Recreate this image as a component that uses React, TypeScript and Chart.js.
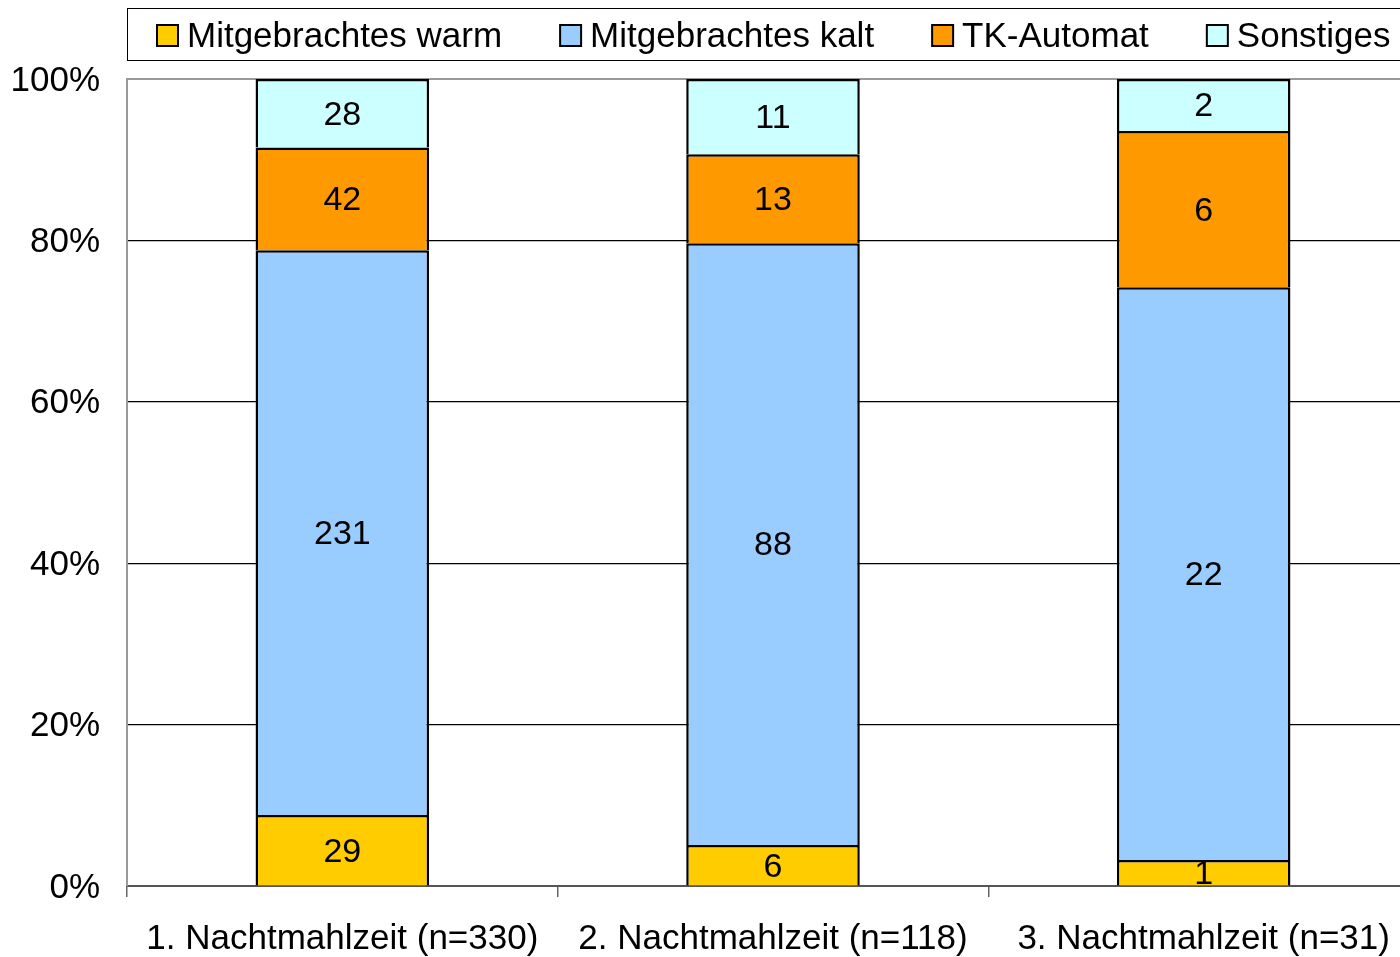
import React, { useEffect, useRef } from "react";
import { Chart, registerables } from "chart.js";

Chart.register(...registerables);

const categories = [
  "1. Nachtmahlzeit (n=330)",
  "2. Nachtmahlzeit (n=118)",
  "3. Nachtmahlzeit (n=31)",
];
const seriesNames = ["Mitgebrachtes warm", "Mitgebrachtes kalt", "TK-Automat", "Sonstiges"];
const warm = [29, 6, 1];
const kalt = [231, 88, 22];
const tkAutomat = [42, 13, 6];
const sonstiges = [28, 11, 2];
const seriesColors = ["#FFCC00", "#99CCFF", "#FF9900", "#CCFFFF"];
const yTicks = [0, 20, 40, 60, 80, 100];

const FONT = "'Liberation Sans', Arial, sans-serif";

export default function App() {
  const ref = useRef<HTMLCanvasElement | null>(null);

  useEffect(() => {
    if (!ref.current) return;
    const counts = [warm, kalt, tkAutomat, sonstiges];
    const totals = categories.map((_, i) => counts.reduce((s, arr) => s + arr[i], 0));

    const legendPlugin = {
      id: "customLegend",
      afterDraw(chart: any) {
        const ctx = chart.ctx;
        ctx.save();
        ctx.strokeStyle = "#000";
        ctx.lineWidth = 1;
        ctx.strokeRect(127.5, 8.5, chart.width, 52);
        ctx.font = `35px ${FONT}`;
        ctx.textBaseline = "middle";
        ctx.textAlign = "left";
        let x = 157;
        const cy = 35;
        seriesNames.forEach((name, i) => {
          ctx.fillStyle = seriesColors[i];
          ctx.fillRect(x, cy - 10, 21, 21);
          ctx.strokeStyle = "#000";
          ctx.lineWidth = 2;
          ctx.strokeRect(x, cy - 10, 21, 21);
          ctx.fillStyle = "#000";
          ctx.fillText(name, x + 30, cy + 2);
          x += 30 + ctx.measureText(name).width + 58;
        });
        ctx.restore();
      },
    };

    const labelPlugin = {
      id: "segLabels",
      afterDatasetsDraw(chart: any) {
        const ctx = chart.ctx;
        ctx.save();
        ctx.font = `34px ${FONT}`;
        ctx.fillStyle = "#000";
        ctx.textAlign = "center";
        ctx.textBaseline = "middle";
        chart.data.datasets.forEach((ds: any, di: number) => {
          const meta = chart.getDatasetMeta(di);
          meta.data.forEach((el: any, i: number) => {
            const y = (el.y + el.base) / 2;
            ctx.fillText(String(counts[di][i]), el.x, y + 2);
          });
        });
        ctx.restore();
      },
    };

    const chart = new Chart(ref.current, {
      type: "bar",
      data: {
        labels: categories,
        datasets: counts.map((arr, di) => ({
          label: seriesNames[di],
          data: arr.map((v, i) => (v / totals[i]) * 100),
          backgroundColor: seriesColors[di],
          borderColor: "#000",
          borderWidth: 2.5,
          barPercentage: 0.403,
          categoryPercentage: 1,
        })),
      },
      options: {
        animation: false,
        responsive: false,
        devicePixelRatio: 1,
        layout: { padding: { top: 79, left: 0, right: 0, bottom: 0 } },
        plugins: { legend: { display: false }, tooltip: { enabled: false } },
        scales: {
          x: {
            stacked: true,
            afterFit: (s: any) => {
              s.height = 71;
            },
            grid: {
              drawOnChartArea: false,
              drawTicks: true,
              tickLength: 11,
              color: "#666",
              lineWidth: 1.5,
            },
            border: { display: true, color: "#555", width: 2 },
            ticks: {
              color: "#000",
              font: { family: FONT, size: 35 },
              padding: 21,
              maxRotation: 0,
              autoSkip: false,
            },
          },
          y: {
            stacked: true,
            min: 0,
            max: 100,
            afterFit: (s: any) => {
              s.width = 127;
            },
            afterBuildTicks: (s: any) => {
              s.ticks = yTicks.map((v) => ({ value: v }));
            },
            grid: {
              drawTicks: false,
              color: (c: any) =>
                c.tick && c.tick.value === 100 ? "#999" : c.tick && c.tick.value === 0 ? "rgba(0,0,0,0)" : "#000",
              lineWidth: (c: any) => (c.tick && c.tick.value === 100 ? 2 : 1.2),
            },
            border: { display: true, color: "#999", width: 2 },
            ticks: {
              color: "#000",
              font: { family: FONT, size: 35 },
              padding: 27,
              labelOffset: 2,
              callback: (v: any) => `${v}%`,
            },
          },
        },
      },
      plugins: [legendPlugin, labelPlugin],
    });
    return () => chart.destroy();
  }, []);

  return (
    <div
      style={{
        position: "fixed",
        left: 0,
        top: 0,
        width: 1400,
        height: 957,
        overflow: "hidden",
        background: "#fff",
      }}
    >
      <canvas ref={ref} width={1419} height={957} style={{ display: "block" }} />
    </div>
  );
}
